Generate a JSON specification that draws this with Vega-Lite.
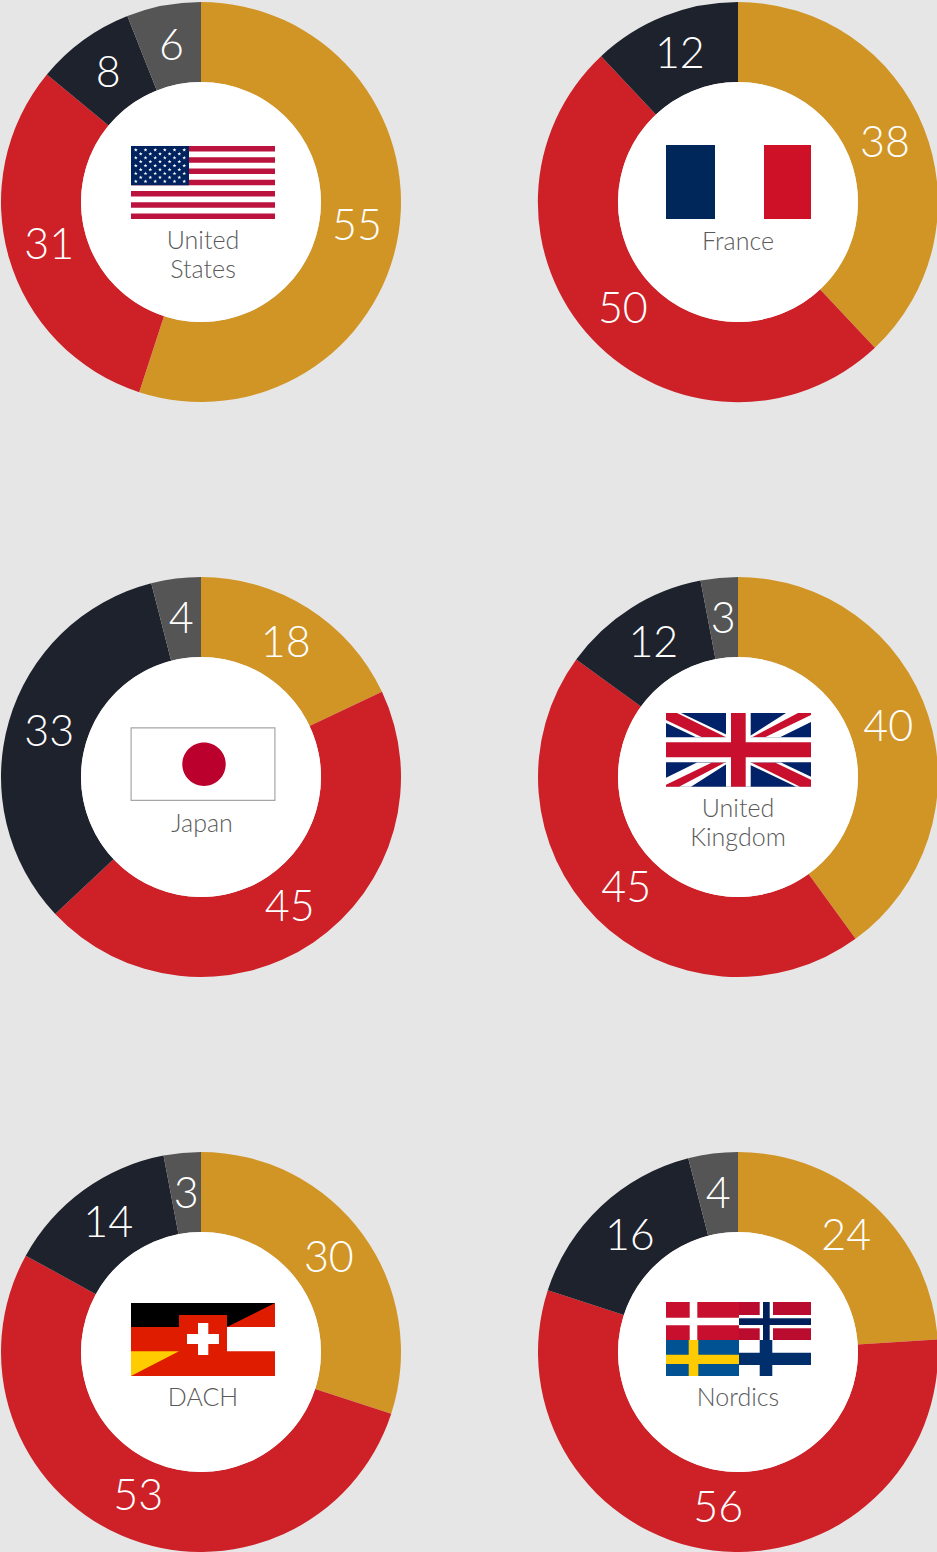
{"$schema":"https://vega.github.io/schema/vega-lite/v6.json","background":"#E6E6E6","padding":{"left":1,"top":2,"right":0,"bottom":0},"autosize":{"type":"pad"},"config":{"view":{"stroke":null}},
"data":{"values":[
{"country":"United States","colour":"gold","rank":1,"share":55},{"country":"United States","colour":"red","rank":2,"share":31},{"country":"United States","colour":"ink","rank":3,"share":8},{"country":"United States","colour":"slate","rank":4,"share":6},
{"country":"France","colour":"gold","rank":1,"share":38},{"country":"France","colour":"red","rank":2,"share":50},{"country":"France","colour":"ink","rank":3,"share":12},
{"country":"Japan","colour":"gold","rank":1,"share":18},{"country":"Japan","colour":"red","rank":2,"share":45},{"country":"Japan","colour":"ink","rank":3,"share":33},{"country":"Japan","colour":"slate","rank":4,"share":4},
{"country":"United Kingdom","colour":"gold","rank":1,"share":40},{"country":"United Kingdom","colour":"red","rank":2,"share":45},{"country":"United Kingdom","colour":"ink","rank":3,"share":12},{"country":"United Kingdom","colour":"slate","rank":4,"share":3},
{"country":"DACH","colour":"gold","rank":1,"share":30},{"country":"DACH","colour":"red","rank":2,"share":53},{"country":"DACH","colour":"ink","rank":3,"share":14},{"country":"DACH","colour":"slate","rank":4,"share":3},
{"country":"Nordics","colour":"gold","rank":1,"share":24},{"country":"Nordics","colour":"red","rank":2,"share":56},{"country":"Nordics","colour":"ink","rank":3,"share":16},{"country":"Nordics","colour":"slate","rank":4,"share":4},
{"country":"United States","name":"United\nStates","nx":202,"ny":239},{"country":"France","name":"France","nx":200,"ny":240},{"country":"Japan","name":"Japan","nx":201,"ny":246.5},{"country":"United Kingdom","name":"United\nKingdom","nx":200,"ny":231.5},{"country":"DACH","name":"DACH","nx":202,"ny":246},{"country":"Nordics","name":"Nordics","nx":200,"ny":246},
{"country":"United States","z":"u","colour":"usRed","x0":130,"x1":274,"y0":144,"y1":149.6},{"country":"United States","z":"u","colour":"usRed","x0":130,"x1":274,"y0":155.2,"y1":160.8},{"country":"United States","z":"u","colour":"usRed","x0":130,"x1":274,"y0":166.5,"y1":172.1},{"country":"United States","z":"u","colour":"usRed","x0":130,"x1":274,"y0":177.7,"y1":183.3},{"country":"United States","z":"u","colour":"usRed","x0":130,"x1":274,"y0":189,"y1":194.6},{"country":"United States","z":"u","colour":"usRed","x0":130,"x1":274,"y0":200.2,"y1":205.8},{"country":"United States","z":"u","colour":"usRed","x0":130,"x1":274,"y0":211.4,"y1":217},{"country":"United States","z":"u","colour":"usNavy","x0":130,"x1":188,"y0":144,"y1":183.3},
{"country":"France","z":"u","colour":"frNavy","x0":128,"x1":177,"y0":143,"y1":217},{"country":"France","z":"u","colour":"frRed","x0":226,"x1":273,"y0":143,"y1":217},
{"country":"Japan","z":"u","colour":"jpGrey","x0":129.5,"x1":274.5,"y0":150.3,"y1":224},{"country":"Japan","z":"u","colour":"white","x0":130.7,"x1":273.3,"y0":151.5,"y1":222.8},
{"country":"United Kingdom","z":"u","colour":"ukNavy","x0":128,"x1":273,"y0":136,"y1":209.7},
{"country":"United Kingdom","z":"o","colour":"white","x0":188,"x1":212.7,"y0":136,"y1":209.7},{"country":"United Kingdom","z":"o","colour":"white","x0":128,"x1":273,"y0":160.3,"y1":185.3},{"country":"United Kingdom","z":"o","colour":"ukRed","x0":193,"x1":207.7,"y0":136,"y1":209.7},{"country":"United Kingdom","z":"o","colour":"ukRed","x0":128,"x1":273,"y0":165.3,"y1":180.3},
{"country":"DACH","z":"u","colour":"deRed","x0":130,"x1":274,"y0":151,"y1":224},{"country":"DACH","z":"u","colour":"deBlack","x0":130,"x1":178,"y0":151,"y1":175},{"country":"DACH","z":"u","colour":"deBlack","x0":178,"x1":226,"y0":151,"y1":163},{"country":"DACH","z":"u","colour":"white","x0":226,"x1":274,"y0":175,"y1":199.3},{"country":"DACH","z":"u","colour":"white","x0":197,"x1":207.3,"y0":171,"y1":203},{"country":"DACH","z":"u","colour":"white","x0":186,"x1":218,"y0":182,"y1":192},
{"country":"Nordics","z":"u","colour":"dkRed","x0":128,"x1":201,"y0":150,"y1":188},{"country":"Nordics","z":"u","colour":"white","x0":151.7,"x1":159.3,"y0":150,"y1":188},{"country":"Nordics","z":"u","colour":"white","x0":128,"x1":201,"y0":165.7,"y1":173.3},
{"country":"Nordics","z":"u","colour":"noRed","x0":201,"x1":273,"y0":150,"y1":188},{"country":"Nordics","z":"u","colour":"white","x0":221.7,"x1":235,"y0":150,"y1":188},{"country":"Nordics","z":"u","colour":"white","x0":201,"x1":273,"y0":163,"y1":176.3},{"country":"Nordics","z":"u","colour":"noNavy","x0":225,"x1":231.7,"y0":150,"y1":188},{"country":"Nordics","z":"u","colour":"noNavy","x0":201,"x1":273,"y0":166.3,"y1":173},
{"country":"Nordics","z":"u","colour":"seBlue","x0":128,"x1":201,"y0":188,"y1":224},{"country":"Nordics","z":"u","colour":"seGold","x0":150.7,"x1":160.3,"y0":188,"y1":224},{"country":"Nordics","z":"u","colour":"seGold","x0":128,"x1":201,"y0":202.7,"y1":212},
{"country":"Nordics","z":"u","colour":"fiNavy","x0":221.7,"x1":234.3,"y0":188,"y1":224},{"country":"Nordics","z":"u","colour":"fiNavy","x0":201,"x1":273,"y0":200.7,"y1":213},
{"country":"Japan","glyph":"disc","colour":"jpRed","gx":203,"gy":187.3},
{"country":"United Kingdom","glyph":"ukWhite","colour":"white","gx":128,"gy":136},{"country":"United Kingdom","glyph":"ukRed","colour":"ukRed","gx":128,"gy":136},
{"country":"DACH","glyph":"blackWedge","colour":"deBlack","gx":226,"gy":151},{"country":"DACH","glyph":"goldWedge","colour":"deGold","gx":130,"gy":199.3},
{"country":"United States","glyph":"star","colour":"white","gx":134.8,"gy":147.9},{"country":"United States","glyph":"star","colour":"white","gx":144.5,"gy":147.9},{"country":"United States","glyph":"star","colour":"white","gx":154.2,"gy":147.9},{"country":"United States","glyph":"star","colour":"white","gx":163.8,"gy":147.9},{"country":"United States","glyph":"star","colour":"white","gx":173.5,"gy":147.9},{"country":"United States","glyph":"star","colour":"white","gx":183.2,"gy":147.9},
{"country":"United States","glyph":"star","colour":"white","gx":139.7,"gy":151.9},{"country":"United States","glyph":"star","colour":"white","gx":149.3,"gy":151.9},{"country":"United States","glyph":"star","colour":"white","gx":159,"gy":151.9},{"country":"United States","glyph":"star","colour":"white","gx":168.6,"gy":151.9},{"country":"United States","glyph":"star","colour":"white","gx":178.3,"gy":151.9},
{"country":"United States","glyph":"star","colour":"white","gx":134.8,"gy":155.8},{"country":"United States","glyph":"star","colour":"white","gx":144.5,"gy":155.8},{"country":"United States","glyph":"star","colour":"white","gx":154.2,"gy":155.8},{"country":"United States","glyph":"star","colour":"white","gx":163.8,"gy":155.8},{"country":"United States","glyph":"star","colour":"white","gx":173.5,"gy":155.8},{"country":"United States","glyph":"star","colour":"white","gx":183.2,"gy":155.8},
{"country":"United States","glyph":"star","colour":"white","gx":139.7,"gy":159.7},{"country":"United States","glyph":"star","colour":"white","gx":149.3,"gy":159.7},{"country":"United States","glyph":"star","colour":"white","gx":159,"gy":159.7},{"country":"United States","glyph":"star","colour":"white","gx":168.6,"gy":159.7},{"country":"United States","glyph":"star","colour":"white","gx":178.3,"gy":159.7},
{"country":"United States","glyph":"star","colour":"white","gx":134.8,"gy":163.7},{"country":"United States","glyph":"star","colour":"white","gx":144.5,"gy":163.7},{"country":"United States","glyph":"star","colour":"white","gx":154.2,"gy":163.7},{"country":"United States","glyph":"star","colour":"white","gx":163.8,"gy":163.7},{"country":"United States","glyph":"star","colour":"white","gx":173.5,"gy":163.7},{"country":"United States","glyph":"star","colour":"white","gx":183.2,"gy":163.7},
{"country":"United States","glyph":"star","colour":"white","gx":139.7,"gy":167.6},{"country":"United States","glyph":"star","colour":"white","gx":149.3,"gy":167.6},{"country":"United States","glyph":"star","colour":"white","gx":159,"gy":167.6},{"country":"United States","glyph":"star","colour":"white","gx":168.6,"gy":167.6},{"country":"United States","glyph":"star","colour":"white","gx":178.3,"gy":167.6},
{"country":"United States","glyph":"star","colour":"white","gx":134.8,"gy":171.5},{"country":"United States","glyph":"star","colour":"white","gx":144.5,"gy":171.5},{"country":"United States","glyph":"star","colour":"white","gx":154.2,"gy":171.5},{"country":"United States","glyph":"star","colour":"white","gx":163.8,"gy":171.5},{"country":"United States","glyph":"star","colour":"white","gx":173.5,"gy":171.5},{"country":"United States","glyph":"star","colour":"white","gx":183.2,"gy":171.5},
{"country":"United States","glyph":"star","colour":"white","gx":139.7,"gy":175.4},{"country":"United States","glyph":"star","colour":"white","gx":149.3,"gy":175.4},{"country":"United States","glyph":"star","colour":"white","gx":159,"gy":175.4},{"country":"United States","glyph":"star","colour":"white","gx":168.6,"gy":175.4},{"country":"United States","glyph":"star","colour":"white","gx":178.3,"gy":175.4},
{"country":"United States","glyph":"star","colour":"white","gx":134.8,"gy":179.4},{"country":"United States","glyph":"star","colour":"white","gx":144.5,"gy":179.4},{"country":"United States","glyph":"star","colour":"white","gx":154.2,"gy":179.4},{"country":"United States","glyph":"star","colour":"white","gx":163.8,"gy":179.4},{"country":"United States","glyph":"star","colour":"white","gx":173.5,"gy":179.4},{"country":"United States","glyph":"star","colour":"white","gx":183.2,"gy":179.4}
]},
"transform":[{"calculate":"indexof(['United States','Japan','DACH'],datum.country)>=0?'left':'right'","as":"side"},{"calculate":"indexof(['United States','France'],datum.country)>=0?'a':indexof(['Japan','United Kingdom'],datum.country)>=0?'b':'c'","as":"tier"}],
"facet":{"column":{"field":"side","type":"nominal","header":null,"sort":["left","right"]},"row":{"field":"tier","type":"nominal","header":null,"sort":["a","b","c"]}},
"spacing":{"column":137,"row":175},
"resolve":{"scale":{"theta":"shared","color":"shared","x":"shared","y":"shared","shape":"shared"}},
"spec":{"width":400,"height":400,"layer":[
{"transform":[{"filter":"isValid(datum.share)"}],"mark":{"type":"arc","innerRadius":120,"outerRadius":200},
"encoding":{"theta":{"field":"share","type":"quantitative","stack":true,"scale":{"domain":[0,100]}},"order":{"field":"rank","type":"ordinal"},
"color":{"field":"colour","type":"nominal","legend":null,"scale":{"domain":["gold","red","ink","slate","usRed","usNavy","white","frNavy","frRed","jpGrey","jpRed","ukNavy","ukRed","deBlack","deRed","deGold","dkRed","noRed","noNavy","seBlue","seGold","fiNavy"],"range":["#D19526","#CD2027","#1E222C","#555555","#BB133E","#00235F","#FFFFFF","#00275A","#CE1126","#A6A6A6","#BC002D","#012169","#C8102E","#000000","#DF1B00","#FFCC00","#C8102E","#BA0C2F","#00205B","#005293","#FECB00","#002F6C"]}}}},
{"transform":[{"filter":"isValid(datum.name)"}],"mark":{"type":"point","shape":"circle","filled":true,"fill":"#FFFFFF","opacity":1,"strokeWidth":0,"size":57600},"encoding":{}},
{"transform":[{"filter":"isValid(datum.share)"}],"mark":{"type":"text","radius":158,"fill":"#FFFFFF","font":"Lato","fontWeight":300,"fontSize":43,"baseline":"middle","align":"center"},
"encoding":{"theta":{"field":"share","type":"quantitative","stack":true},"order":{"field":"rank","type":"ordinal"},"detail":{"field":"colour","type":"nominal"},"text":{"field":"share","type":"quantitative"}}},
{"transform":[{"filter":"datum.z==='u'"}],"mark":{"type":"rect"},"encoding":{"x":{"field":"x0","type":"quantitative","axis":null,"scale":{"domain":[0,400],"nice":false}},"x2":{"field":"x1"},"y":{"field":"y0","type":"quantitative","axis":null,"scale":{"domain":[0,400],"nice":false,"reverse":true}},"y2":{"field":"y1"},"color":{"field":"colour","type":"nominal","legend":null}}},
{"transform":[{"filter":"isValid(datum.glyph)"}],"mark":{"type":"point","filled":true,"opacity":1,"strokeWidth":0},"encoding":{"x":{"field":"gx","type":"quantitative","axis":null},"y":{"field":"gy","type":"quantitative","axis":null},"size":{"value":4},"color":{"field":"colour","type":"nominal","legend":null},
"shape":{"field":"glyph","type":"nominal","legend":null,"scale":{"domain":["star","disc","ukWhite","ukRed","blackWedge","goldWedge"],"range":["M0,-2L.5,-.6L1.9,-.6L.8,.3L1.2,1.6L0,.8L-1.2,1.6L-.8,.3L-1.9,-.6L-.5,-.6Z","M-21.7,0A21.7,21.7,0,1,1,21.7,0A21.7,21.7,0,1,1,-21.7,0Z","M0,0L15,0L66,24.3L30,24.3L0,10ZM120,0L145,0L145,9L114,24.3L82,24.3ZM145,73.7L130,73.7L79,49.4L115,49.4L145,63.7ZM25,73.7L0,73.7L0,64.7L31,49.4L63,49.4Z","M0,0L11,0L60,24.3L36,24.3L0,7ZM132,0L145,0L145,2L99,24.3L86,24.3ZM145,73.7L134,73.7L85,49.4L109,49.4L145,66.7ZM13,73.7L0,73.7L0,71.7L46,49.4L59,49.4Z","M0,0L48,0L0,24Z","M0,0L48,0L0,24.7Z"]}}}},
{"transform":[{"filter":"datum.z==='o'"}],"mark":{"type":"rect"},"encoding":{"x":{"field":"x0","type":"quantitative","axis":null},"x2":{"field":"x1"},"y":{"field":"y0","type":"quantitative","axis":null},"y2":{"field":"y1"},"color":{"field":"colour","type":"nominal","legend":null}}},
{"transform":[{"filter":"isValid(datum.name)"}],"mark":{"type":"text","font":"Lato","fontWeight":300,"fontSize":25,"fill":"#5A5A5A","align":"center","baseline":"middle","lineBreak":"\n","lineHeight":29},"encoding":{"x":{"field":"nx","type":"quantitative","axis":null},"y":{"field":"ny","type":"quantitative","axis":null},"text":{"field":"name"}}}
]}}
